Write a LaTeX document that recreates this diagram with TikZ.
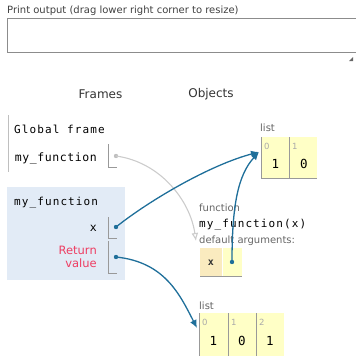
\documentclass[tikz,border=0pt]{standalone}
\usepackage{fontspec}
\setmainfont{DejaVu Sans}
\setmonofont{DejaVu Sans Mono}
\newfontfamily\codefont[LetterSpace=10]{DejaVu Sans Mono}
\newfontfamily\varfont[LetterSpace=5]{DejaVu Sans Mono}
\usetikzlibrary{arrows.meta}
\definecolor{framebg}{HTML}{E2EBF6}
\definecolor{listbg}{HTML}{FFFFC6}
\definecolor{keybg}{HTML}{FAEBBF}
\definecolor{ptrblue}{HTML}{1F6F9A}
\definecolor{retred}{HTML}{EE3D62}
\definecolor{edgegray}{HTML}{999999}
\definecolor{idxgray}{HTML}{AAAAAA}
\tikzset{
  lbl/.style={inner sep=0pt, font=\fontsize{10}{12}\selectfont, text=black!75},
  head/.style={inner sep=0pt, font=\fontsize{12}{14}\selectfont, text=black!80},
  code/.style={inner sep=0pt, font=\codefont\fontsize{11}{13}\selectfont},
  varname/.style={inner sep=0pt, font=\varfont\fontsize{11.5}{13}\selectfont},
  small/.style={inner sep=0pt, font=\fontsize{10}{12}\selectfont, text=black!60},
  idx/.style={inner sep=0pt, font=\fontsize{8.5}{10}\selectfont, text=idxgray},
  val/.style={inner sep=0pt, font=\ttfamily\fontsize{12.5}{14}\selectfont},
  ptrbox/.style={draw=edgegray, line width=0.8pt},
  cellline/.style={draw=edgegray, line width=1pt},
  ptr/.style={draw=ptrblue, line width=1.3pt, -{Latex[length=8pt,width=7pt]}},
  lightptr/.style={draw=black!20, line width=1.1pt, -{Latex[open,length=8pt,width=7pt]}},
}
\begin{document}
\begin{tikzpicture}[x=1pt,y=-1pt]
  \useasboundingbox (0,0) rectangle (356,356);
  % print output box
  \node[lbl, anchor=base west] (printlbl) at (7,13) {Print output (drag lower right corner to resize)};
  \draw[black!45, line width=0.8pt] (357,18) -- (7,18) -- (7,52) -- (357,52);
  \fill[black!60] (349,61) -- (353,57) -- (353,61) -- cycle;
  % headers
  \node[head] (framesh) at (100.5,94) {Frames};
  \node[head] (objectsh) at (211,94) {Objects};
  % global frame
  \draw[black!25, line width=0.8pt] (8,115) -- (8,172);
  \node[code, anchor=base west] (globhead) at (14,133) {Global frame};
  \node[varname, anchor=base east] (gvar) at (97,161) {my\_function};
  \draw[ptrbox] (108,144) -- (108,167) -- (117,167);
  \coordinate (gdot) at (116,156);
  \fill[black!25] (gdot) circle (2.2pt);
  % my_function frame
  \fill[framebg] (7,187) rectangle (125,280);
  \node[code, anchor=base west] (fhead) at (14,205) {my\_function};
  \node[varname, anchor=base east] (xvar) at (97,231) {x};
  \draw[ptrbox] (108,217) -- (108,238) -- (117,238);
  \coordinate (xdot) at (116,227);
  \node[inner sep=0pt, font=\fontsize{11.5}{13}\selectfont, text=retred, align=right, anchor=east] (retv) at (97,257) {Return\\value};
  \draw[ptrbox] (108,241) -- (108,273) -- (117,273);
  \coordinate (rdot) at (116,257);
  \fill[ptrblue] (xdot) circle (2.2pt);
  \fill[ptrblue] (rdot) circle (2.2pt);
  % list [1, 0]
  \node[small, anchor=base west] (listAlbl) at (260,131) {list};
  \fill[listbg] (261,137) rectangle (317,178);
  \draw[cellline] (261,137) -- (261,178) -- (317,178);
  \draw[cellline] (289,137) -- (289,178);
  \node[idx, anchor=base west] (iA0) at (264,149) {0};
  \node[idx, anchor=base west] (iA1) at (292,149) {1};
  \node[val, anchor=base] (vA0) at (275.5,168) {1};
  \node[val, anchor=base] (vA1) at (304,168) {0};
  \coordinate (listAtip) at (259,152);
  % function object
  \node[small, anchor=base west] (funclbl) at (199,211) {function};
  \node[code, anchor=base west] (funcsig) at (199,227) {my\_function(x)};
  \node[small, anchor=base west] (defargs) at (199,243) {default arguments:};
  \fill[keybg] (200,248) rectangle (222,276);
  \fill[listbg] (222,248) rectangle (242,276);
  \draw[cellline] (200,276) -- (242,276);
  \draw[draw=white, line width=1pt] (222,248) -- (222,276);
  \node[inner sep=0pt, font=\ttfamily\bfseries\fontsize{10}{12}\selectfont, text=black!80] (defkey) at (211,263) {x};
  \coordinate (ddot) at (232,262);
  \fill[ptrblue] (ddot) circle (2.2pt);
  \coordinate (functip) at (196,241);
  % list [1, 0, 1]
  \node[small, anchor=base west] (listBlbl) at (199,309) {list};
  \fill[listbg] (199,313) rectangle (284,357);
  \draw[cellline] (199,313) -- (199,357);
  \draw[cellline] (228,313) -- (228,357);
  \draw[cellline] (256,313) -- (256,357);
  \node[idx, anchor=base west] (iB0) at (202,325) {0};
  \node[idx, anchor=base west] (iB1) at (231,325) {1};
  \node[idx, anchor=base west] (iB2) at (259,325) {2};
  \node[val, anchor=base] (vB0) at (213.5,345) {1};
  \node[val, anchor=base] (vB1) at (242,345) {0};
  \node[val, anchor=base] (vB2) at (270,345) {1};
  \coordinate (listBtip) at (197,328);
  % pointers
  \draw[lightptr] (gdot) .. controls (160,162) and (190,200) .. (functip);
  \draw[ptr] (xdot) .. controls (150,200) and (210,165) .. (listAtip);
  \draw[ptr] (ddot) .. controls (232,205) and (238,175) .. (listAtip);
  \draw[ptr] (rdot) .. controls (165,262) and (180,295) .. (listBtip);
\end{tikzpicture}
\end{document}
